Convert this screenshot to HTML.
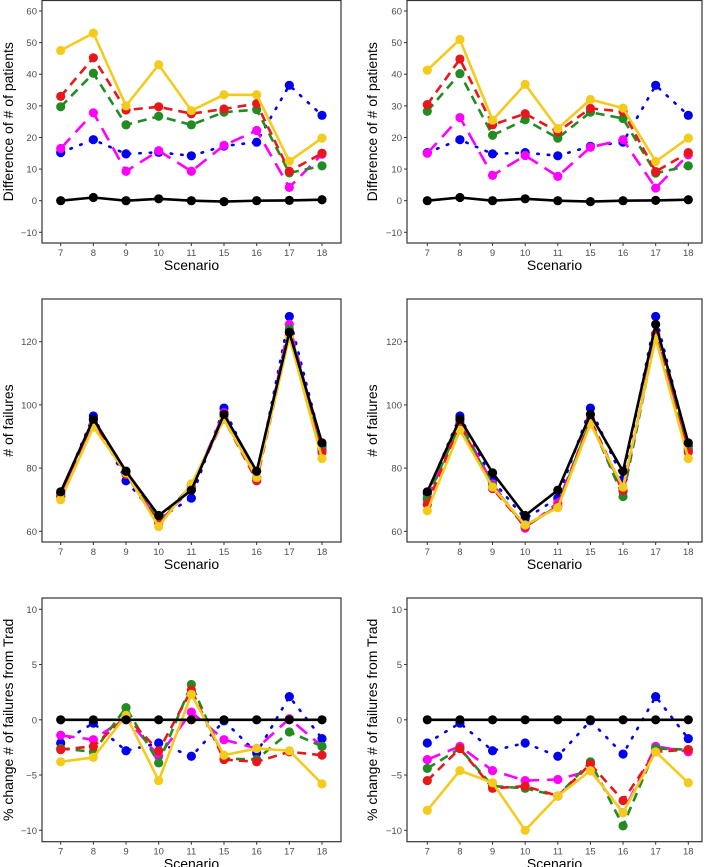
<!DOCTYPE html>
<html><head><meta charset="utf-8"><style>
body{margin:0;background:#fff;}
svg{display:block;font-family:"Liberation Sans",sans-serif;}
</style></head><body>
<svg id="fig" width="709" height="867" viewBox="0 0 709 867"></svg>
<script>
const scenarios=["7","8","9","10","11","15","16","17","18"];
const seriesNames=["blue","magenta","green","red","yellow","black"];
// top-left: difference of # of patients
const tlBlue=[15.2,19.3,14.8,15.3,14.2,17.3,18.5,36.5,27];
const tlMagenta=[16.5,27.8,9.3,15.8,9.3,17.5,22.2,4.2,14.7];
const tlGreen=[29.7,40.3,24,26.7,24,28,28.8,8.8,11];
const tlRed=[33,45.2,28.7,29.7,27.5,29,30.7,9.3,15];
const tlYellow=[47.5,53,30,43,28.5,33.5,33.5,12.5,19.8];
const tlBlack=[0,1,0,0.6,0,-0.3,0,0.1,0.3];
// top-right
const trBlue=[15.2,19.3,14.8,15.2,14.2,17.2,18.5,36.5,27];
const trMagenta=[15,26.3,8,14.3,7.7,16.9,19.3,4,14.5];
const trGreen=[28.3,40.2,20.7,25.6,19.8,28,26,8.7,11];
const trRed=[30.4,44.8,24,27.5,21.8,29.2,28.2,9.2,15.2];
const trYellow=[41.3,51,25.5,36.8,22.8,32,29.3,12.4,19.8];
const trBlack=[0,1,0,0.6,0,-0.3,0,0.1,0.3];
// middle-left: # of failures
const mlBlue=[72,96.5,76,64,70.5,99,77,128,87];
const mlMagenta=[71.5,95,78.5,63,73.5,97.5,76.5,125.5,85.5];
const mlGreen=[71,94,79,63.5,74.5,96,77,124,86];
const mlRed=[71,94,78,62.5,74,95.5,76,122,85];
const mlYellow=[70,93,78.5,61.5,75,95.5,77,121.5,83];
const mlBlack=[72.5,95.5,79,65,73,97,79,123,88];
// middle-right
const mrBlue=[72,96.5,76,64,70.5,99,76.5,128,87];
const mrMagenta=[70,94.5,75,61,69,94.5,72.5,122.5,85.5];
const mrGreen=[70.5,94,74.5,61.5,68,95,71,122,86];
const mrRed=[68.5,94,73.5,61.5,68,95.5,73,122,85];
const mrYellow=[66.5,92,74,62,67.5,94,74,121,83];
const mrBlack=[72.5,95.5,78.5,65,73,97,79,125.5,88];
// bottom-left: % change
const blBlue=[-2.1,-0.3,-2.8,-2.1,-3.3,-0.1,-3.0,2.1,-1.7];
const blMagenta=[-1.4,-1.8,0.2,-3.3,0.7,-1.8,-2.6,0.1,-2.4];
const blGreen=[-2.6,-2.9,1.1,-3.9,3.2,-3.5,-3.6,-1.1,-2.4];
const blRed=[-2.7,-2.4,0.3,-2.8,2.7,-3.6,-3.8,-2.9,-3.2];
const blYellow=[-3.8,-3.4,0.4,-5.5,2.3,-3.2,-2.6,-2.8,-5.8];
const blBlack=[0,0,0,0,0,0,0,0,0];
// bottom-right
const brBlue=[-2.1,-0.3,-2.8,-2.1,-3.3,-0.1,-3.1,2.1,-1.7];
const brMagenta=[-3.6,-2.4,-4.6,-5.5,-5.4,-4.6,-8.4,-2.4,-2.9];
const brGreen=[-4.4,-2.6,-6.0,-6.2,-6.9,-3.8,-9.6,-2.6,-2.7];
const brRed=[-5.5,-2.6,-6.2,-6.0,-6.9,-4.0,-7.3,-2.9,-2.7];
const brYellow=[-8.2,-4.6,-5.7,-10,-6.9,-4.6,-8.4,-2.9,-5.7];
const brBlack=[0,0,0,0,0,0,0,0,0];
const ticksDiff=[-10,0,10,20,30,40,50,60];
const ticksFail=[60,80,100,120];
const ticksPct=[-10,-5,0,5,10];

const NS="http://www.w3.org/2000/svg";
const svg=document.getElementById('fig');
const styles={
 blue:{c:"#0000ee",dash:"1.5 9",cap:"round"},
 magenta:{c:"#ff00ff",dash:"14 8",cap:"butt"},
 green:{c:"#228b22",dash:"9 6",cap:"butt"},
 red:{c:"#e8171b",dash:"9 6",cap:"butt"},
 yellow:{c:"#f4cb1d",dash:"",cap:"butt"},
 black:{c:"#000000",dash:"",cap:"butt"}
};
function mk(tag,attrs,parent){const e=document.createElementNS(NS,tag);for(const k in attrs)e.setAttribute(k,attrs[k]);(parent||svg).appendChild(e);return e;}

function panel(name,box,xr,yr,ticks,ylab,ylabX,series){
 const g=mk('g',{});
 
 
 const xs=i=>xr[0]+(xr[1]-xr[0])*i/(scenarios.length-1);
 const ys=v=>yr[0]+(v-yr[1])*(yr[2]-yr[0])/(yr[3]-yr[1]);
 const r=mk('rect',{x:box[0],y:box[1],width:box[2]-box[0],height:box[3]-box[1],fill:"#fff",stroke:"#333","stroke-width":1.2},g);
 
 
 ticks.forEach(t=>{
  const y=ys(t);
  mk('line',{x1:box[0]-3,x2:box[0],y1:y,y2:y,stroke:"#333","stroke-width":1},g);
  const tx=mk('text',{x:box[0]-5,y:y+3.5,"text-anchor":"end","font-size":9.5,fill:"#4d4d4d"},g);
  tx.textContent=(t<0?"\u2212"+(-t):t);
  
  
 });
 scenarios.forEach((s,i)=>{
  const x=xs(i);
  mk('line',{x1:x,x2:x,y1:box[3],y2:box[3]+3,stroke:"#333","stroke-width":1},g);
  const tx=mk('text',{x:x,y:box[3]+13,"text-anchor":"middle","font-size":9.5,fill:"#4d4d4d"},g);
  tx.textContent=s;
  
  
 });
 const xt=mk('text',{x:(box[0]+box[2])/2,y:box[3]+27,"text-anchor":"middle","font-size":14,fill:"#000"},g);
 xt.textContent="Scenario";
 
 
 const cy=(box[1]+box[3])/2;
 const yt=mk('text',{x:ylabX,y:cy,"text-anchor":"middle","font-size":14,fill:"#000",transform:`rotate(-90 ${ylabX} ${cy})`},g);
 yt.textContent=ylab;
 
 
 series.forEach((vals,k)=>{
  const st=styles[seriesNames[k]];
  const pts=vals.map((v,i)=>xs(i).toFixed(1)+","+ys(v).toFixed(1)).join(" ");
  const pl=mk('polyline',{points:pts,fill:"none",stroke:st.c,"stroke-width":2.6,"stroke-dasharray":st.dash,"stroke-linecap":st.cap,"stroke-linejoin":"round"},g);
  
  
  vals.forEach((v,i)=>{
   const c=mk('circle',{cx:xs(i),cy:ys(v),r:4.6,fill:st.c},g);
   
   
  });
 });
}
const LB=[42,341],RB=[407,702];
const LX=[60.7,322],RX=[427.3,688.3];
panel('panel-top-left',[LB[0],0.5,LB[1],243],LX,[11,60,232.3,-10],ticksDiff,"Difference of # of patients",13,[tlBlue,tlMagenta,tlGreen,tlRed,tlYellow,tlBlack]);
panel('panel-top-right',[RB[0],0.5,RB[1],243],RX,[11,60,232.3,-10],ticksDiff,"Difference of # of patients",377,[trBlue,trMagenta,trGreen,trRed,trYellow,trBlack]);
panel('panel-middle-left',[LB[0],299,LB[1],542],LX,[341.7,120,531.3,60],ticksFail,"# of failures",13,[mlBlue,mlMagenta,mlGreen,mlRed,mlYellow,mlBlack]);
panel('panel-middle-right',[RB[0],299,RB[1],542],RX,[341.7,120,531.3,60],ticksFail,"# of failures",377,[mrBlue,mrMagenta,mrGreen,mrRed,mrYellow,mrBlack]);
panel('panel-bottom-left',[LB[0],598,LB[1],841.7],LX,[609.3,10,830.3,-10],ticksPct,"% change # of failures from Trad",13,[blBlue,blMagenta,blGreen,blRed,blYellow,blBlack]);
panel('panel-bottom-right',[RB[0],598,RB[1],841.7],RX,[609.3,10,830.3,-10],ticksPct,"% change # of failures from Trad",377,[brBlue,brMagenta,brGreen,brRed,brYellow,brBlack]);
</script>
</body></html>
